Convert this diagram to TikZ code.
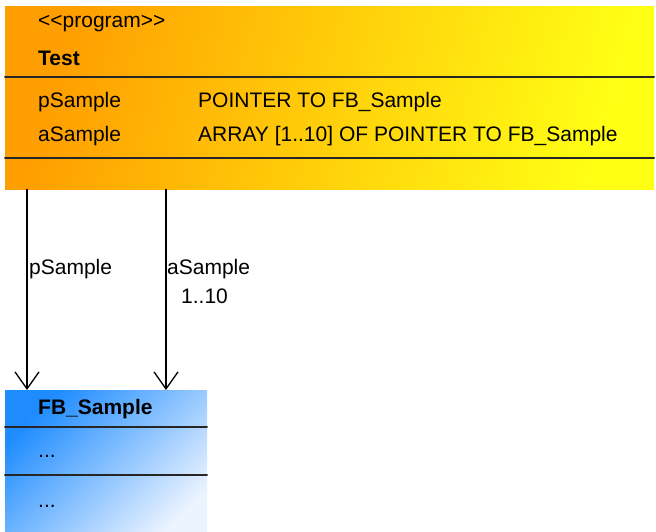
\documentclass[tikz,border=0pt]{standalone}
\usepackage{fontspec}
\setmainfont{Liberation Sans}
\usetikzlibrary{arrows.meta}
\definecolor{umlorange}{RGB}{255,158,0}
\definecolor{umlyellow}{RGB}{255,255,20}
\definecolor{umlblue}{RGB}{30,140,255}
\definecolor{umlpale}{RGB}{235,243,255}
\tikzset{
  txt/.style={anchor=west,inner sep=0pt,font=\fontsize{21}{24}\selectfont},
  bold txt/.style={txt,font=\fontsize{21}{24}\selectfont\bfseries},
  sep line/.style={line width=2pt,draw=black!85},
  ptr/.style={line width=1.3pt,-{Straight Barb[length=17pt,width=24pt,line width=1.3pt]}}
}
\begin{document}
\begin{tikzpicture}[x=1pt,y=1pt,line cap=round]
  \clip (0,0) rectangle (656,-531);
  % program box
  \node[anchor=north west,inner sep=0pt,minimum width=649pt,minimum height=183pt,
        top color=umlorange,bottom color=umlyellow,shading angle=75] (test) at (5,-6) {};
  \draw[sep line] (5,-77) -- (654,-77);
  \draw[sep line] (5,-158) -- (654,-158);
  \node[txt] (stereo) at (38,-24) {<{}<program>{}>};
  \node[bold txt] (name) at (38,-58) {Test};
  \node[txt] (pvar) at (38,-102) {pSample};
  \node[txt] (avar) at (38,-136) {aSample};
  \node[txt] (ptype) at (198,-102) {POINTER TO FB\_Sample};
  \node[txt] (atype) at (198,-136) {ARRAY [1..10] OF POINTER TO FB\_Sample};
  % function block box
  \node[anchor=north west,inner sep=0pt,minimum width=202pt,minimum height=150pt,
        top color=umlblue,bottom color=umlpale,shading angle=45] (fbsample) at (5,-390) {};
  \draw[sep line] (5,-427) -- (207,-427);
  \draw[sep line] (5,-475) -- (207,-475);
  \node[bold txt] (fbname) at (38,-409) {FB\_Sample};
  \node[txt] (fbvars) at (38,-456) {...};
  \node[txt] (fbmeth) at (38,-506) {...};
  % pointers
  \coordinate (pfrom) at ([xshift=22pt]test.south west);
  \coordinate (pto) at ([xshift=22pt]fbsample.north west);
  \coordinate (afrom) at ([xshift=161pt]test.south west);
  \coordinate (ato) at ([xshift=161pt]fbsample.north west);
  \draw[ptr] (pfrom) -- (pto);
  \draw[ptr] (afrom) -- (ato);
  \node[txt] (plabel) at (29,-269) {pSample};
  \node[txt] (alabel) at (167,-269) {aSample};
  \node[txt] (amult) at (181,-296) {1..10};
\end{tikzpicture}
\end{document}
